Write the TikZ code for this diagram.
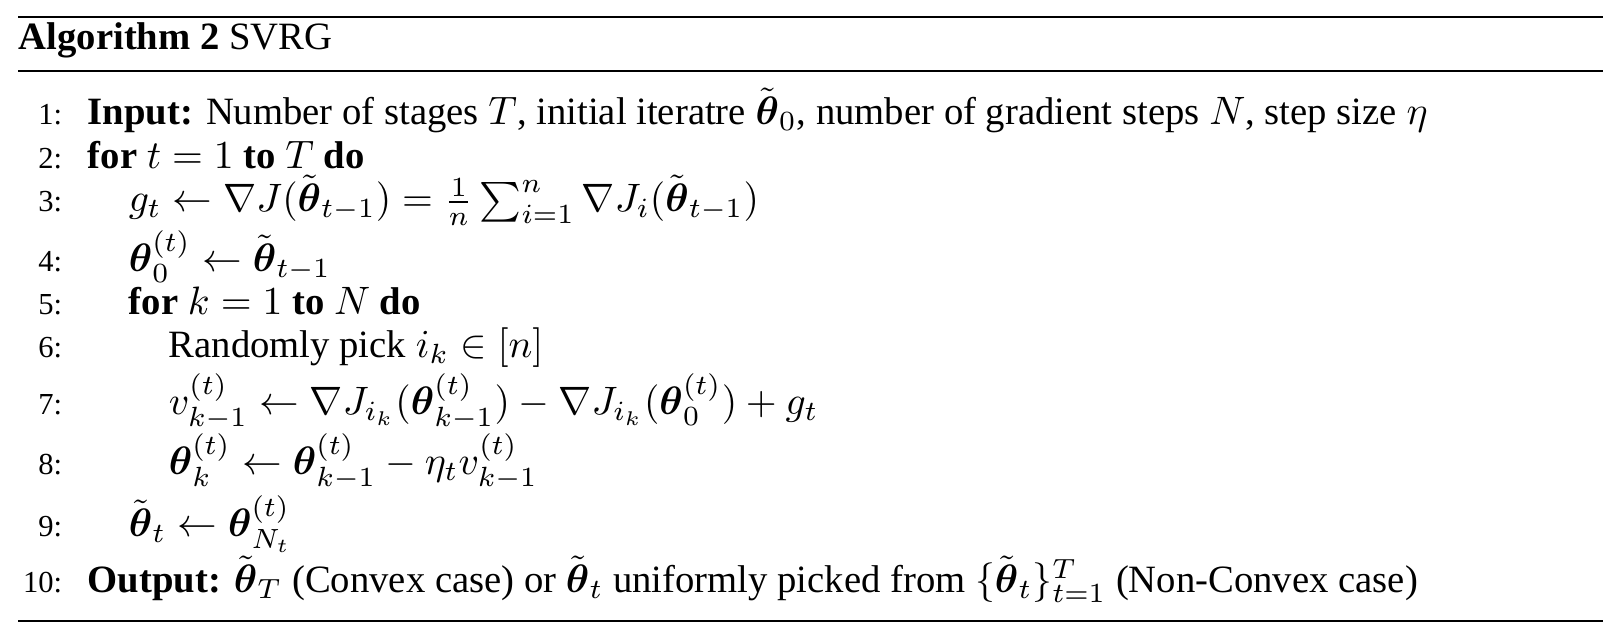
\documentclass[tikz,border=0pt]{standalone}
\usepackage{amsmath,amssymb}
\usepackage[no-math]{fontspec}
\setmainfont{Liberation Serif}[Scale=0.975]
\newcommand{\bth}{\boldsymbol{\theta}}
\newcommand{\tth}{\tilde{\boldsymbol{\theta}}}
\begin{document}
\begin{tikzpicture}[x=0.2521pt,y=-0.2521pt,
  txt/.style={anchor=base west,inner sep=0pt,font=\fontsize{10}{12}\selectfont},
  num/.style={anchor=base east,inner sep=0pt,font=\fontsize{7.9}{9.5}\selectfont}]
\useasboundingbox (0,0) rectangle (1619,640);
\coordinate (tl) at (18,17); \coordinate (tr) at (1603,17);
\coordinate (ml) at (18,71); \coordinate (mr) at (1603,71);
\coordinate (bl) at (18,621); \coordinate (br) at (1603,621);
\draw[line width=0.67pt] (tl) -- (tr);
\draw[line width=0.38pt] (ml) -- (mr);
\draw[line width=0.38pt] (bl) -- (br);
\node[txt] (head) at (18,50) {\textbf{Algorithm 2} SVRG};
\node[num] (n1) at (63,125) {1:};
\node[txt] (l1) at (87,125) {\textbf{Input:} Number of stages $T$, initial iteratre $\tth_0$, number of gradient steps $N$, step size $\eta$};
\node[num] (n2) at (63,169) {2:};
\node[txt] (l2) at (87,169) {\textbf{for} $t=1$ \textbf{to} $T$ \textbf{do}};
\node[num] (n3) at (63,212) {3:};
\node[txt] (l3) at (128,212) {$g_t \leftarrow \nabla J(\tth_{t-1}) = \frac{1}{n}\sum_{i=1}^{n} \nabla J_i(\tth_{t-1})$};
\node[num] (n4) at (63,272) {4:};
\node[txt] (l4) at (128,272) {$\bth_0^{(t)} \leftarrow \tth_{t-1}$};
\node[num] (n5) at (63,315) {5:};
\node[txt] (l5) at (128,315) {\textbf{for} $k=1$ \textbf{to} $N$ \textbf{do}};
\node[num] (n6) at (63,358) {6:};
\node[txt] (l6) at (168,358) {Randomly pick $i_k\in[n]$};
\node[num] (n7) at (63,415) {7:};
\node[txt] (l7) at (168,415) {$v_{k-1}^{(t)} \leftarrow \nabla J_{i_k}(\bth_{k-1}^{(t)}) - \nabla J_{i_k}(\bth_0^{(t)}) + g_t$};
\node[num] (n8) at (63,475) {8:};
\node[txt] (l8) at (168,475) {$\bth_k^{(t)} \leftarrow \bth_{k-1}^{(t)} - \eta_t v_{k-1}^{(t)}$};
\node[num] (n9) at (63,537) {9:};
\node[txt] (l9) at (128,537) {$\tth_t \leftarrow \bth_{N_t}^{(t)}$};
\node[num] (n10) at (63,593) {10:};
\node[txt] (l10) at (87,593) {\textbf{Output:} $\tth_T$ (Convex case) or $\tth_t$ uniformly picked from $\{\tth_t\}_{t=1}^{T}$ (Non-Convex case)};
\end{tikzpicture}
\end{document}
